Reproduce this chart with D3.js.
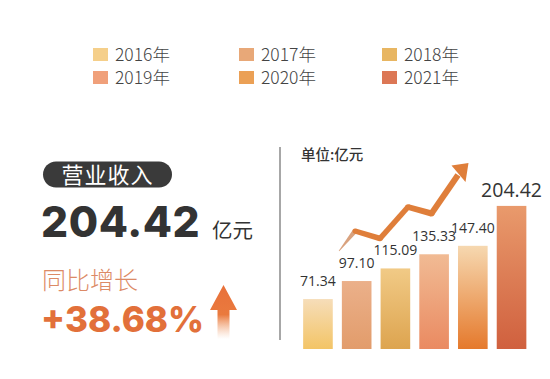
<!DOCTYPE html>
<html><head><meta charset="utf-8">
<script src="https://cdn.jsdelivr.net/npm/d3@7/dist/d3.min.js"></script>
<style>
html,body{margin:0;padding:0;background:#fff;}
svg{display:block;}
</style></head>
<body>
<svg id="c" width="550" height="379"></svg>
<script>
const years = ["2016年","2017年","2018年","2019年","2020年","2021年"];
const revenue = [71.34, 97.10, 115.09, 135.33, 147.40, 204.42];
const labels = ["71.34","97.10","115.09","135.33","147.40","204.42"];
const topColors = ["#f6ddb9","#ebb08a","#f1ca86","#f1bb94","#f6d8b0","#e99a6c"];
const bottomColors = ["#f3c466","#e29c6b","#dda44f","#ea8a61","#e5792c","#d0603e"];
const legendColors = ["#f5cf8a","#e8a878","#e8b662","#f0a07a","#eba055","#dc7755"];
const headline = "204.42";
const growth = "+38.68%";

const svg = d3.select("#c");
const defs = svg.append("defs");
const CJK = "'Noto Sans CJK SC','Noto Sans',sans-serif";

years.forEach((y,i)=>{
  const g = defs.append("linearGradient").attr("id","g"+i).attr("x1",0).attr("y1",0).attr("x2",0).attr("y2",1);
  g.append("stop").attr("offset","0%").attr("stop-color",topColors[i]);
  g.append("stop").attr("offset","100%").attr("stop-color",bottomColors[i]);
});

// legend
const lg = svg.append("g");
const colX = [93, 239, 382], rowY = [48, 71];
years.forEach((y,i)=>{
  const cx = colX[i%3], cy = rowY[Math.floor(i/3)];
  lg.append("rect").attr("x",cx).attr("y",cy).attr("width",15).attr("height",13).attr("fill",legendColors[i]);
  lg.append("text").attr("x",cx+22).attr("y",cy+12.5).text(y)
    .attr("font-family",CJK).attr("font-size",17.5).attr("font-weight",300).attr("fill","#444");
});

// left panel
svg.append("rect").attr("x",43).attr("y",161.5).attr("width",129).attr("height",26).attr("rx",13).attr("fill","#3a3a3a");
svg.append("text").attr("x",107.5).attr("y",183).attr("text-anchor","middle").text("营业收入")
  .attr("font-family",CJK).attr("font-size",22).attr("fill","#fff").attr("letter-spacing",1);
svg.append("text").attr("x",41).attr("y",237).text(headline)
  .attr("font-family","Inter, 'DejaVu Sans', sans-serif").attr("font-weight",800).attr("font-size",42.5)
  .attr("fill","#333").attr("letter-spacing",0.6);
svg.append("text").attr("x",212).attr("y",238).text("亿元")
  .attr("font-family",CJK).attr("font-size",20.5).attr("fill","#333");
svg.append("text").attr("x",42).attr("y",289).text("同比增长")
  .attr("font-family",CJK).attr("font-size",24).attr("font-weight",300).attr("fill","#dc8a66");
svg.append("text").attr("x",41).attr("y",332).text(growth)
  .attr("font-family","Inter, 'DejaVu Sans', sans-serif").attr("font-weight",800).attr("font-size",35)
  .attr("fill","#e2703a");
const ag = defs.append("linearGradient").attr("id","ua").attr("x1",0).attr("y1",0).attr("x2",0).attr("y2",1);
ag.append("stop").attr("offset","0%").attr("stop-color","#e8703a");
ag.append("stop").attr("offset","55%").attr("stop-color","#ea7a3e");
ag.append("stop").attr("offset","100%").attr("stop-color","#f3b48a").attr("stop-opacity",0);
svg.append("path").attr("d","M223.5,285 L237,310 L229.5,310 L229.5,339 L217.5,339 L217.5,310 L210,310 Z").attr("fill","url(#ua)");

// divider
svg.append("line").attr("x1",280).attr("x2",280).attr("y1",147).attr("y2",340).attr("stroke","#8a8a8a").attr("stroke-width",1.5);

// unit
svg.append("text").attr("x",301).attr("y",160).text("单位:亿元")
  .attr("font-family",CJK).attr("font-size",14.5).attr("font-weight",500).attr("fill","#333");

// bars
const x = d3.scaleBand().domain(years).range([298.5,531]).paddingInner(0.235).paddingOuter(0.12);
const y = d3.scaleLinear().domain([0, 210]).range([349, 202]);
const bars = svg.append("g");
bars.selectAll("rect").data(revenue).join("rect")
  .attr("x",(d,i)=>x(years[i])).attr("width",x.bandwidth())
  .attr("y",d=>y(d)).attr("height",d=>y(0)-y(d))
  .attr("fill",(d,i)=>`url(#g${i})`);

bars.selectAll("text").data(revenue).join("text")
  .attr("x",(d,i)=>x(years[i])+x.bandwidth()/2)
  .attr("y",(d,i)=>y(d)-(i===5?9:13))
  .attr("text-anchor","middle")
  .attr("font-family","'Open Sans','Noto Sans',sans-serif")
  .attr("font-size",(d,i)=>i===5?19.5:14)
  .attr("fill","#333")
  .text((d,i)=>labels[i]);

// trend arrow (decoration)
const pts = [[339,251],[355,231],[380,238.5],[408,207],[431.5,213.5],[458,175]];
const widths = [0.6,5,5.5,5.5,6,6];
const trend = svg.append("g");
for(let i=0;i<pts.length-1;i++){
  const [x0,y0]=pts[i],[x1,y1]=pts[i+1];
  const dx=x1-x0, dy=y1-y0, L=Math.hypot(dx,dy), nx=-dy/L, ny=dx/L;
  const w0=widths[i]/2, w1=widths[i+1]/2;
  trend.append("path").attr("d",`M${x0+nx*w0},${y0+ny*w0} L${x1+nx*w1},${y1+ny*w1} L${x1-nx*w1},${y1-ny*w1} L${x0-nx*w0},${y0-ny*w0} Z`)
    .attr("fill", i===0 ? "#d9a27e" : "#df7e3a");
  if(i>0) trend.append("circle").attr("cx",x0).attr("cy",y0).attr("r",w0).attr("fill","#df7e3a");
}
trend.append("path").attr("d","M468.5,163 L451.5,165.5 L465.5,182 Z").attr("fill","#df7e3a");
</script>
</body></html>
